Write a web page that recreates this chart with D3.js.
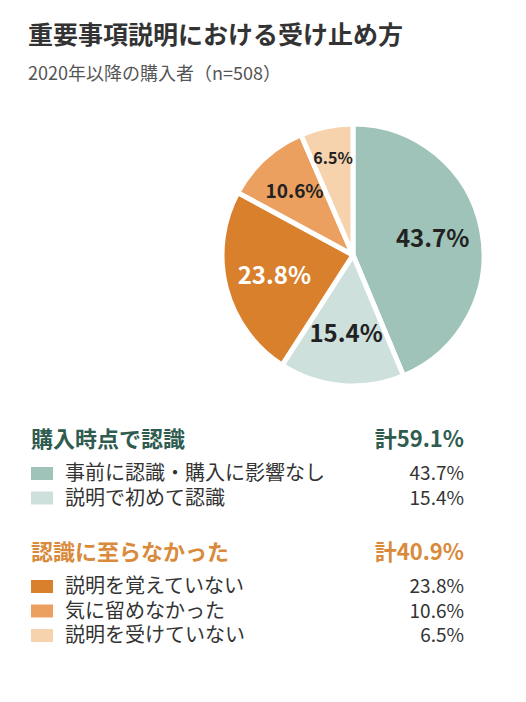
<!DOCTYPE html>
<html><head><meta charset="utf-8">
<script src="https://cdn.jsdelivr.net/npm/d3@7"></script>
<style>body{margin:0;background:#fff}</style></head>
<body><svg id="c" width="526" height="702"></svg>
<script>
const categories=["事前に認識・購入に影響なし","説明で初めて認識","説明を覚えていない","気に留めなかった","説明を受けていない"];
const values=[43.7,15.4,23.8,10.6,6.5];
const colors=["#9fc3b8","#cde0dc","#d9802c","#eba060","#f6d3ad"];
const labelColors=["#222","#222","#fff","#222","#222"];
const groups=[{title:"購入時点で認識",total:"計59.1%",color:"#2f5c4f",items:[0,1]},{title:"認識に至らなかった",total:"計40.9%",color:"#d98a3a",items:[2,3,4]}];
const F="'Noto Sans CJK JP','Noto Sans',sans-serif";
const svg=d3.select("#c");
svg.append("text").attr("x",28).attr("y",44).attr("font-family",F).attr("font-size",25).attr("font-weight",700).attr("fill","#333").text("重要事項説明における受け止め方");
svg.append("text").attr("x",28).attr("y",80).attr("font-family",F).attr("font-size",18).attr("fill","#555").text("2020年以降の購入者（n=508）");
const cx=353,cy=255,r=131;
const pie=d3.pie().sort(null).value(d=>d)(values);
const arc=d3.arc().innerRadius(0).outerRadius(r);
const g=svg.append("g").attr("transform",`translate(${cx},${cy})`);
g.selectAll("path").data(pie).join("path").attr("d",arc).attr("fill",(d,i)=>colors[i]).attr("stroke","#fff").attr("stroke-width",5).attr("stroke-linejoin","round");
const lr=[0.62,0.6,0.62,0.66,0.75];
g.selectAll("text").data(pie).join("text").attr("transform",(d,i)=>`translate(${d3.arc().innerRadius(r*lr[i]).outerRadius(r*lr[i]).centroid(d)})`)
 .attr("text-anchor","middle").attr("dy","0.35em").attr("font-family",F).attr("font-weight",700)
 .attr("font-size",(d,i)=>[24,24,24,19,16][i]).attr("fill",(d,i)=>labelColors[i]).text(d=>d.data.toFixed(1)+"%");
let y=447;
groups.forEach(gr=>{
 svg.append("text").attr("x",31).attr("y",y).attr("font-family",F).attr("font-size",22).attr("font-weight",700).attr("fill",gr.color).text(gr.title);
 svg.append("text").attr("x",464).attr("y",y).attr("text-anchor","end").attr("font-family",F).attr("font-size",22).attr("font-weight",700).attr("fill",gr.color).text(gr.total);
 y+=33;
 gr.items.forEach(i=>{
  svg.append("rect").attr("x",31).attr("y",y-13).attr("width",22).attr("height",13).attr("fill",colors[i]);
  svg.append("text").attr("x",65).attr("y",y).attr("font-family",F).attr("font-size",20).attr("fill","#333").text(categories[i]);
  svg.append("text").attr("x",464).attr("y",y).attr("text-anchor","end").attr("font-family",F).attr("font-size",19).attr("fill","#333").text(values[i].toFixed(1)+"%");
  y+=24.5;
 });
 y+=31;
});
</script></body></html>
